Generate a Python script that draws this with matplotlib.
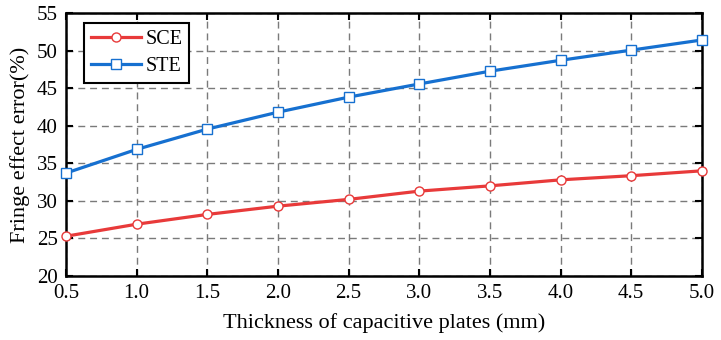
import matplotlib
matplotlib.use("Agg")
import matplotlib.pyplot as plt

thickness = [0.5, 1.0, 1.5, 2.0, 2.5, 3.0, 3.5, 4.0, 4.5, 5.0]
sce = [25.3, 26.9, 28.2, 29.3, 30.2, 31.3, 32.0, 32.8, 33.35, 34.0]
ste = [33.7, 36.85, 39.55, 41.8, 43.8, 45.55, 47.25, 48.7, 50.05, 51.4]
xticks = [0.5, 1.0, 1.5, 2.0, 2.5, 3.0, 3.5, 4.0, 4.5, 5.0]
yticks = [20, 25, 30, 35, 40, 45, 50, 55]

plt.rcParams['font.family'] = ['Liberation Serif', 'DejaVu Serif']

fig = plt.figure(figsize=(7.21, 3.40), dpi=100)
ax = fig.add_axes([0.0915, 0.188, 0.882, 0.774])

ax.plot(thickness, sce, color='#e83a3a', lw=2.3, marker='o', ms=6.5,
        mfc='white', mec='#e83a3a', mew=1.0, label='SCE', clip_on=False, zorder=3)
ax.plot(thickness, ste, color='#1670d0', lw=2.3, marker='s', ms=6.5,
        mfc='white', mec='#1670d0', mew=1.0, label='STE', clip_on=False, zorder=3)

ax.set_xlim(0.5, 5.0)
ax.set_ylim(20, 55)
ax.set_xticks(xticks)
ax.set_xticklabels([f"{v:.1f}" for v in xticks])
ax.set_yticks(yticks)
ax.tick_params(direction='in', top=True, right=True, length=5, width=1.5,
               labelsize=15, pad=6)
ax.grid(True, linestyle=(0, (5, 3.5)), color='#7a7a7a', lw=1.0)
for s in ax.spines.values():
    s.set_linewidth(1.8)

ax.set_xlabel('Thickness of capacitive plates (mm)', fontsize=16, labelpad=7)
ax.set_ylabel('Fringe effect error(%)', fontsize=16, labelpad=5)

leg = ax.legend(loc='upper left', bbox_to_anchor=(0.028, 0.962), fontsize=14.5,
                fancybox=False, edgecolor='black', framealpha=1,
                handlelength=2.5, borderpad=0.35, labelspacing=0.4,
                handletextpad=0.2, borderaxespad=0)
leg.get_frame().set_linewidth(1.5)

fig.savefig('out.png', dpi=100)
